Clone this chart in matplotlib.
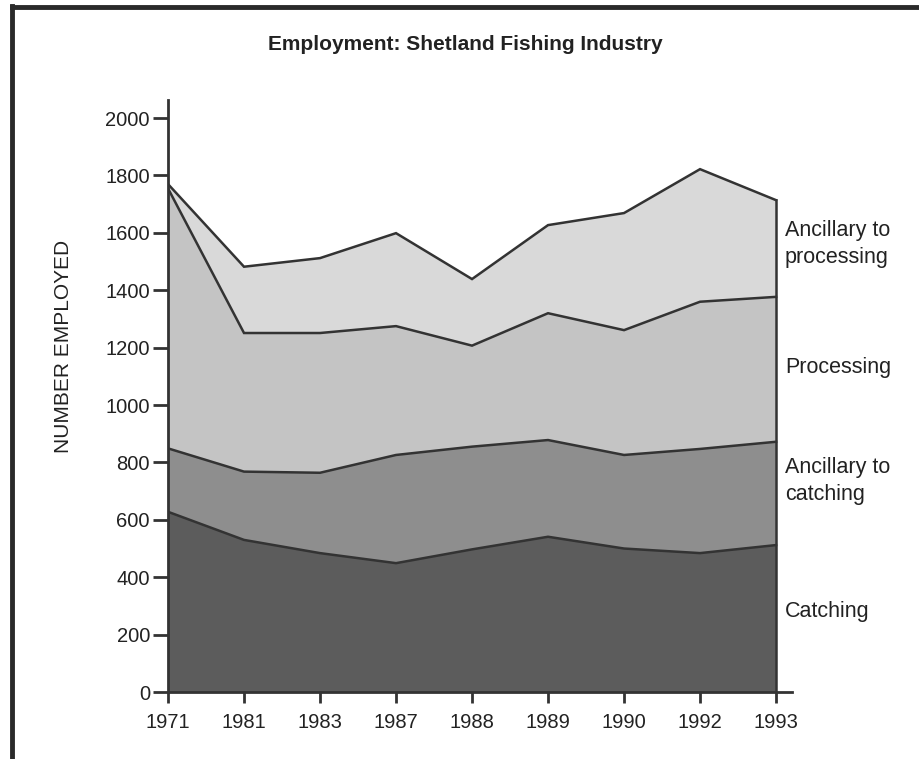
import matplotlib
matplotlib.use("Agg")
import matplotlib.pyplot as plt
import numpy as np
from matplotlib.lines import Line2D

years = ["1971", "1981", "1983", "1987", "1988", "1989", "1990", "1992", "1993"]
catching = [628, 530, 484, 449, 497, 541, 500, 484, 512]
ancillary_catching = [221, 238, 280, 377, 358, 337, 326, 363, 360]
processing = [906, 483, 487, 449, 352, 442, 435, 513, 505]
ancillary_processing = [15, 231, 261, 324, 232, 307, 408, 462, 337]
series_labels = ["Catching", "Ancillary to\ncatching", "Processing", "Ancillary to\nprocessing"]
yticks = [0, 200, 400, 600, 800, 1000, 1200, 1400, 1600, 1800, 2000]

colors = ["#5c5c5c", "#8e8e8e", "#c4c4c4", "#d9d9d9"]
dark = "#333333"
font = ["Liberation Sans", "DejaVu Sans"]
plt.rcParams["font.family"] = font

fig = plt.figure(figsize=(9.19, 7.59), dpi=100)
ax = fig.add_axes([168/919, 67/759, (792-168)/919, (692-100)/759])

x = np.arange(len(years))
stack = [catching, ancillary_catching, processing, ancillary_processing]
ax.stackplot(x, *stack, colors=colors, linewidth=0)
cum = np.cumsum(np.array(stack), axis=0)
for row in cum:
    ax.plot(x, row, color=dark, lw=1.8, solid_joinstyle="miter")
ax.plot([x[-1], x[-1]], [0, cum[-1][-1]], color=dark, lw=1.8)

ax.set_xlim(0, 8.21)
ax.set_ylim(0, 2063)
ax.set_xticks(x)
ax.set_xticklabels(years, fontsize=14.5)
ax.set_yticks(yticks)
ax.set_yticklabels([str(v) for v in yticks], fontsize=14.5)
ax.tick_params(axis="both", direction="out", color=dark, width=2, labelcolor="#222222")
ax.tick_params(axis="y", length=11, pad=2)
ax.tick_params(axis="x", length=8, pad=7)
for s in ["top", "right"]:
    ax.spines[s].set_visible(False)
for s in ["left", "bottom"]:
    ax.spines[s].set_color(dark)
    ax.spines[s].set_linewidth(2)
ax.set_facecolor("white")

ax.set_ylabel("NUMBER EMPLOYED", fontsize=15, color="#222222")
ax.yaxis.set_label_coords(-0.152, 0.584)

# labels at the right
label_y = [612, 481, 368, 244]
for lab, yy in zip(series_labels, label_y):
    fig.text(785/919, 1 - yy/759, lab, fontsize=15.5, color="#222222",
             ha="left", va="center", linespacing=1.4)

fig.text(465/919, 1 - 44/759, "Employment: Shetland Fishing Industry",
         fontsize=15, fontweight="bold", color="#222222", ha="center", va="center")

# frame lines (left and top)
fig.add_artist(Line2D([12/919, 12/919], [0, 1 - 6/759], transform=fig.transFigure,
                      color="#2a2a2a", lw=3.5))
fig.add_artist(Line2D([12/919, 1], [1 - 7/759, 1 - 7/759], transform=fig.transFigure,
                      color="#2a2a2a", lw=3.5))

fig.savefig("out.png", dpi=100, facecolor="white")
